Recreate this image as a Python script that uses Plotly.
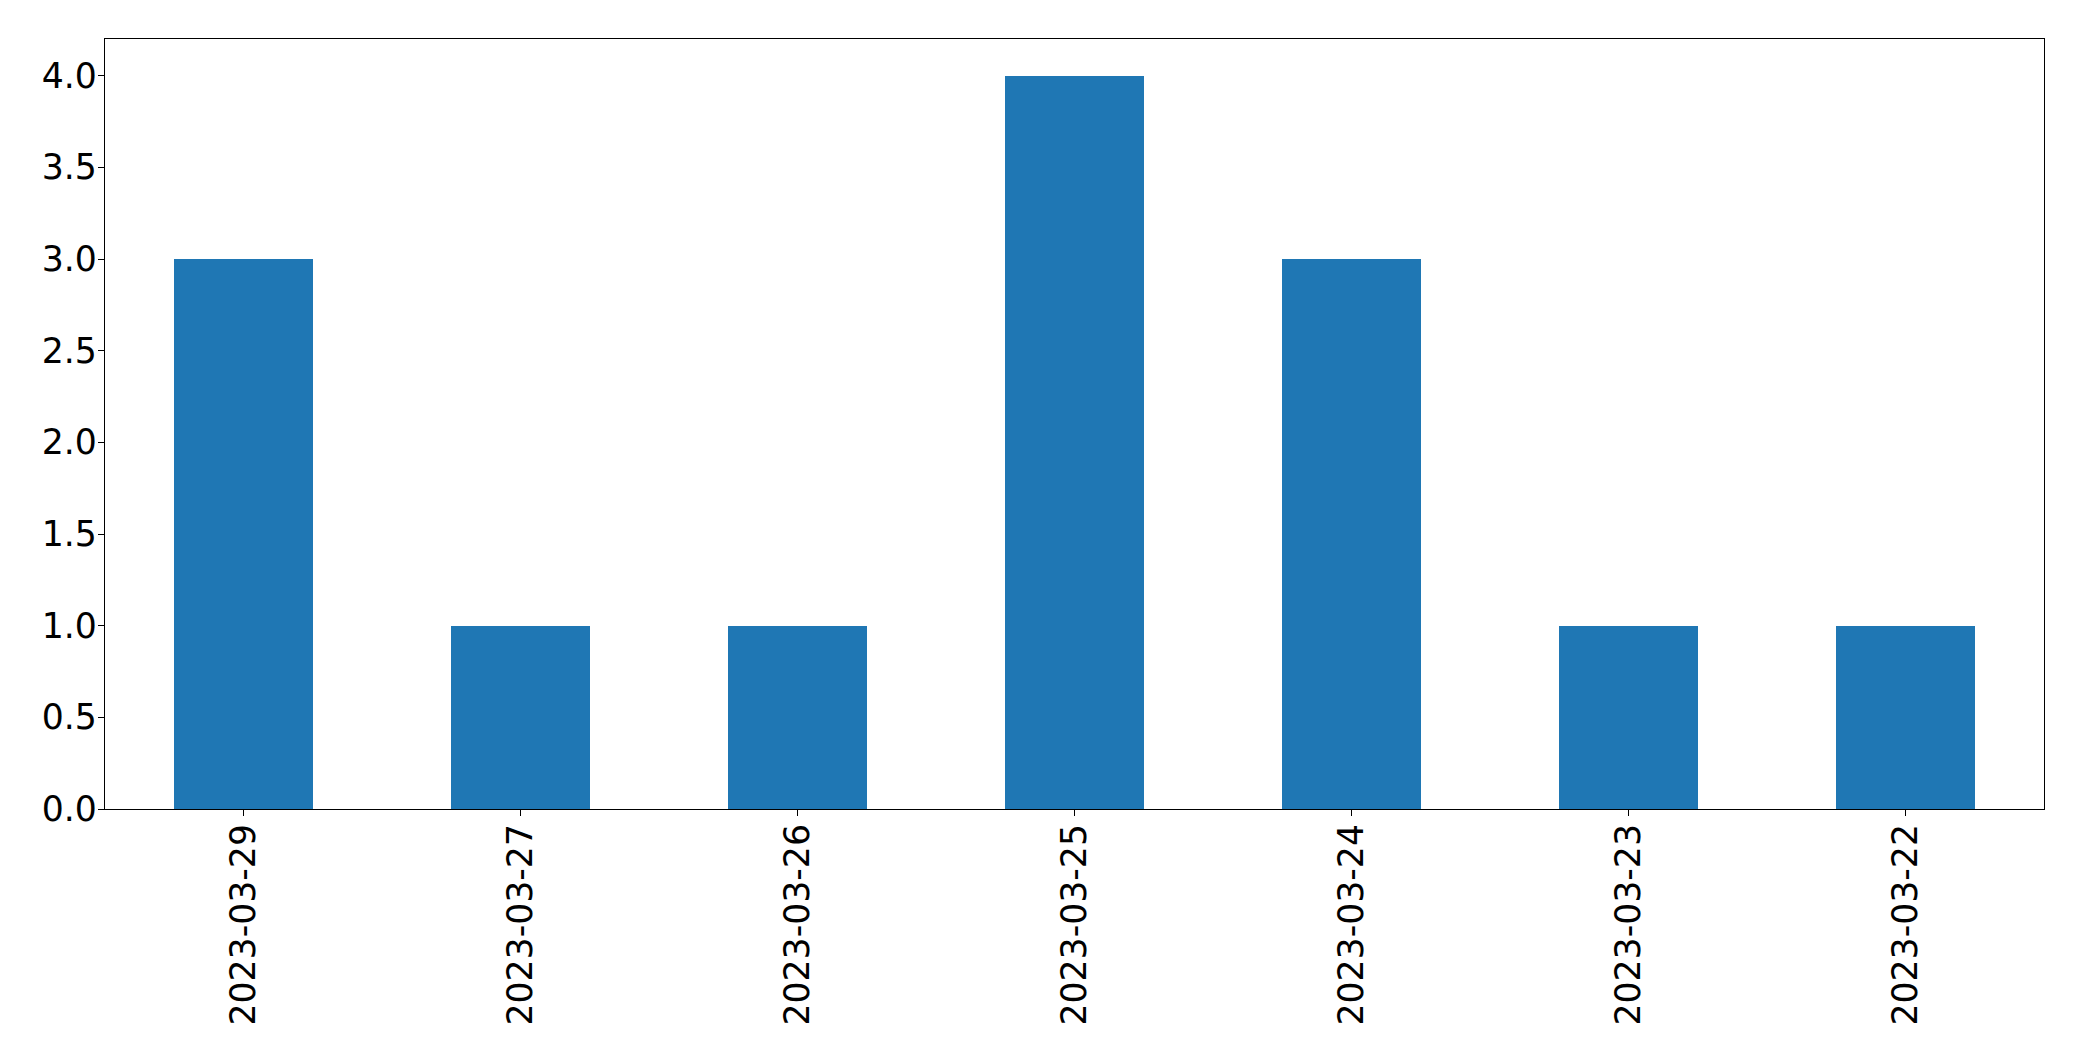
import plotly.graph_objects as go

dates = ["2023-03-29", "2023-03-27", "2023-03-26", "2023-03-25", "2023-03-24", "2023-03-23", "2023-03-22"]
counts = [3, 1, 1, 4, 3, 1, 1]
y_ticks = [0.0, 0.5, 1.0, 1.5, 2.0, 2.5, 3.0, 3.5, 4.0]
y_tick_labels = ["0.0", "0.5", "1.0", "1.5", "2.0", "2.5", "3.0", "3.5", "4.0"]

fig = go.Figure(go.Bar(x=dates, y=counts, width=0.5, marker=dict(color="#1f77b4", line=dict(width=0))))

font = dict(family="DejaVu Sans", size=34.7, color="black")
fig.update_layout(
    width=2082, height=1061,
    margin=dict(l=105, r=38, t=39, b=252, pad=0),
    plot_bgcolor="white", paper_bgcolor="white",
    showlegend=False, bargap=0,
    font=font,
)
fig.update_xaxes(
    type="category", range=[-0.5, 6.5],
    showline=True, linecolor="black", linewidth=1.3, mirror=True,
    ticks="outside", ticklen=6, tickwidth=1.3, tickcolor="black",
    tickangle=-90, tickfont=font, showgrid=False, zeroline=False,
    ticklabelstandoff=-6,
)
fig.update_yaxes(
    range=[0, 4.2], tickvals=y_ticks, ticktext=y_tick_labels,
    showline=True, linecolor="black", linewidth=1.3, mirror=True,
    ticks="outside", ticklen=6, tickwidth=1.3, tickcolor="black",
    tickfont=font, showgrid=False, zeroline=False,
    ticklabelstandoff=-6,
)
fig.write_html("out.html", config={"displayModeBar": False},
               post_script="document.body.style.margin='0';document.body.style.overflow='hidden';")
